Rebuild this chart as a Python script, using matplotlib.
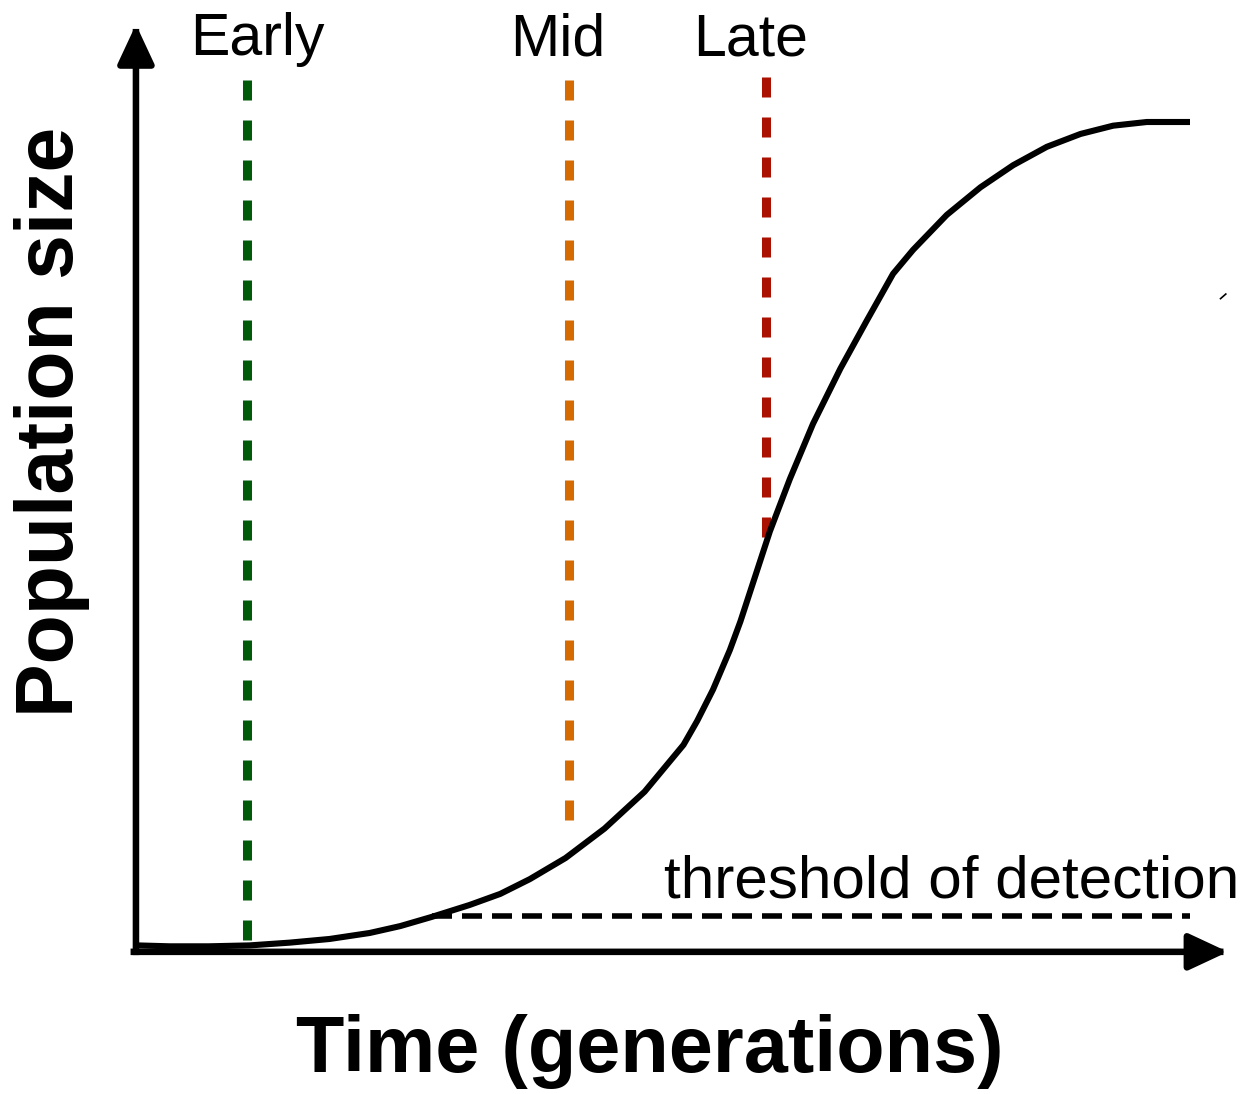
import matplotlib
matplotlib.use("Agg")
import matplotlib.pyplot as plt

plt.rcParams['font.family'] = ['Liberation Sans', 'DejaVu Sans']
plt.rcParams['lines.scale_dashes'] = False

# ---- data (time in % of plotted span, population in % of axis height) ----
curve_time = [0.0, 3.1, 6.8, 10.7, 14.5, 18.3, 22.1, 25.0, 28.0, 31.6, 34.5,
              37.3, 40.7, 44.4, 48.2, 51.9, 53.2, 54.7, 56.3, 57.3, 58.9,
              60.1, 62.0, 64.2, 66.8, 69.3, 71.8, 73.7, 76.9, 80.1, 83.2,
              86.4, 89.6, 92.7, 95.9, 100.0]
curve_pop = [0.5, 0.4, 0.4, 0.5, 0.8, 1.2, 1.85, 2.6, 3.6, 4.9, 6.1,
             7.7, 10.0, 13.2, 17.2, 22.3, 24.9, 28.3, 32.6, 35.7, 41.3,
             45.5, 51.2, 57.2, 63.2, 68.4, 73.5, 76.1, 79.9, 82.9, 85.3,
             87.3, 88.7, 89.6, 90.0, 90.0]

stage_names = ["Early", "Mid", "Late"]
stage_times = [10.45, 41.0, 59.7]
stage_bottoms = [1.1, 14.1, 44.9]
stage_top = 95.1
stage_colors = ["#005a0a", "#d46a00", "#aa1100"]

threshold_level = 3.7
threshold_start = 28.0
threshold_end = 100.0

W, H = 1247, 1094
fig = plt.figure(figsize=(W / 100, H / 100), dpi=100)
ax = fig.add_axes([137 / W, (H - 950) / H, 1053 / W, 920 / H])
ax.set_xlim(0, 100)
ax.set_ylim(0, 100)
ax.axis('off')

# stage lines
for t, b, c in zip(stage_times, stage_bottoms, stage_colors):
    ax.plot([t, t], [b, stage_top], color=c, lw=6.5, dashes=(14.4, 14.4),
            solid_capstyle='butt', dash_capstyle='butt', clip_on=False)

# threshold
ax.plot([threshold_start, threshold_end], [threshold_level, threshold_level],
        color='black', lw=4.0, dashes=(14.4, 7.2), dash_capstyle='butt',
        clip_on=False)

# growth curve
ax.plot(curve_time, curve_pop, color='black', lw=4.4, solid_capstyle='butt',
        solid_joinstyle='round', clip_on=False, zorder=5)

# tiny stray stroke at right
ax.plot([102.9, 103.4], [70.8, 71.3], color='black', lw=1.2, clip_on=False)

# axes with arrows
arrow_kw = dict(arrowstyle='-|>,head_length=1.2,head_width=0.56',
                mutation_scale=20, color='black', lw=4.7,
                shrinkA=0, shrinkB=0, joinstyle='round', capstyle='projecting')
ax.annotate('', xy=(-0.1, 100.6), xytext=(-0.1, -0.2), xycoords='data',
            arrowprops=arrow_kw, annotation_clip=False)
ax.annotate('', xy=(103.6, -0.2), xytext=(-0.3, -0.2), xycoords='data',
            arrowprops=arrow_kw, annotation_clip=False)

# labels
for name, t in zip(stage_names, [257, 558, 751]):
    fig.text(t / W, 1 - 55 / H, name, ha='center', va='baseline', fontsize=42.5)

fig.text(952 / W, 1 - 897 / H, "threshold of detection", ha='center',
         va='baseline', fontsize=43.4)
fig.text(650 / W, 1 - 1072 / H, "Time (generations)", ha='center',
         va='baseline', fontsize=57, fontweight='bold')
fig.text(90 / W, 1 - 422 / H, "Population size", ha='right', va='center',
         rotation=90, fontsize=58, fontweight='bold')

fig.savefig("out.png", dpi=100)
